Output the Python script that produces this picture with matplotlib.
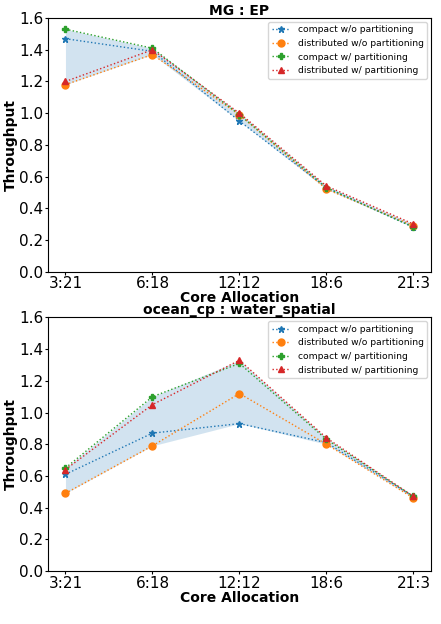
import matplotlib
matplotlib.use("Agg")
import matplotlib.pyplot as plt
import numpy as np

allocations = ["3:21", "6:18", "12:12", "18:6", "21:3"]
labels = ["compact w/o partitioning", "distributed w/o partitioning",
          "compact w/ partitioning", "distributed w/ partitioning"]
markers = ["*", "o", "P", "^"]

mg_ep = [
    [1.47, 1.39, 0.95, 0.53, 0.28],
    [1.18, 1.37, 0.99, 0.52, 0.29],
    [1.53, 1.41, 0.99, 0.53, 0.28],
    [1.20, 1.40, 1.00, 0.54, 0.30],
]
ocean_water = [
    [0.61, 0.87, 0.93, 0.81, 0.47],
    [0.49, 0.79, 1.12, 0.80, 0.46],
    [0.65, 1.10, 1.31, 0.83, 0.47],
    [0.64, 1.05, 1.33, 0.84, 0.47],
]


def draw(ax, series, title):
    x = np.arange(len(allocations))
    for vals, lab, mk in zip(series, labels, markers):
        ax.plot(x, vals, linestyle=":", marker=mk, label=lab, markersize=5, linewidth=1)
    arr = np.array(series)
    ax.fill_between(x, arr.min(axis=0), arr.max(axis=0), color="C0", alpha=0.2, linewidth=0)
    ax.set_xticks(x)
    ax.set_xticklabels(allocations)
    ax.set_ylim(0, 1.6)
    ax.set_yticks(np.arange(0, 1.61, 0.2))
    ax.tick_params(labelsize=11, length=2.5, pad=1)
    ax.set_xlabel("Core Allocation", fontsize=10, fontweight="bold", labelpad=0)
    ax.set_ylabel("Throughput", fontsize=10, fontweight="bold", labelpad=1)
    ax.set_title(title, fontsize=10, fontweight="bold", pad=2)
    ax.legend(loc="upper right", fontsize=6.6, borderaxespad=0.4)


fig, (ax1, ax2) = plt.subplots(2, 1, figsize=(4.41, 6.24), dpi=100)
fig.subplots_adjust(left=0.109, right=0.977, top=0.971, bottom=0.085, hspace=0.181)
draw(ax1, mg_ep, "MG : EP")
draw(ax2, ocean_water, "ocean_cp : water_spatial")
fig.savefig("out.png")
